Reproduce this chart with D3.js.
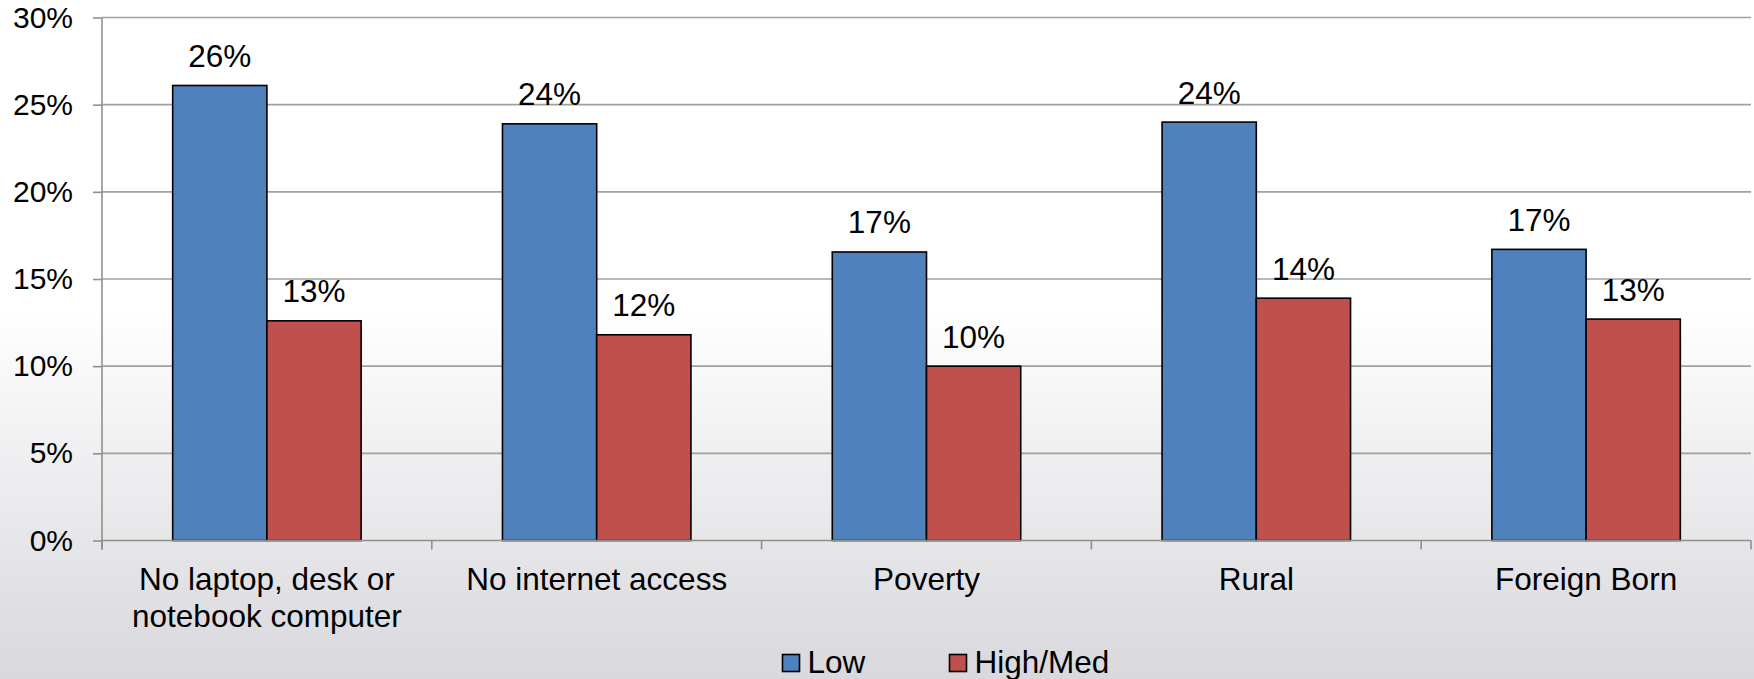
<!DOCTYPE html>
<html>
<head>
<meta charset="utf-8">
<script src="https://cdn.jsdelivr.net/npm/d3@7"></script>
<style>
  html, body { margin: 0; padding: 0; background: #fff; }
  svg { display: block; font-family: "Liberation Sans", Arial, sans-serif; }
</style>
</head>
<body>
<svg id="chart" width="1754" height="679"></svg>
<script>
// Share of students by group, split by school performance level
const categories = [
  ["No laptop, desk or", "notebook computer"],
  ["No internet access"],
  ["Poverty"],
  ["Rural"],
  ["Foreign Born"]
];
const seriesNames = ["Low", "High/Med"];
const lowValues = [26.1, 23.9, 16.55, 24.0, 16.7];
const highMedValues = [12.6, 11.8, 10.0, 13.9, 12.7];
const yTicks = [0, 5, 10, 15, 20, 25, 30];
const colors = ["#4f81bd", "#c0504d"];

const W = 1754, H = 679;
const plot = { left: 102, right: 1751, top: 17.5, bottom: 540.5 };

const svg = d3.select("#chart");

// background gradient: white at top fading to light grey at the bottom
const defs = svg.append("defs");
const grad = defs.append("linearGradient")
  .attr("id", "bg").attr("x1", 0).attr("y1", 0).attr("x2", 0).attr("y2", 1);
grad.append("stop").attr("offset", "0%").attr("stop-color", "#ffffff");
grad.append("stop").attr("offset", "45%").attr("stop-color", "#ffffff");
grad.append("stop").attr("offset", "100%").attr("stop-color", "#d8d8dd");
svg.append("rect").attr("width", W).attr("height", H).attr("fill", "url(#bg)");

const catKeys = categories.map(c => c.join(" "));
const x0 = d3.scaleBand().domain(catKeys).range([plot.left, plot.right]).padding(0);
const x1 = d3.scaleBand().domain(seriesNames).range([0, x0.bandwidth()])
  .paddingInner(0).paddingOuter(0.75);
const y = d3.scaleLinear().domain([0, 30]).range([plot.bottom, plot.top]);

// horizontal gridlines
svg.append("g").selectAll("line").data(yTicks.filter(t => t > 0)).join("line")
  .attr("x1", plot.left).attr("x2", plot.right)
  .attr("y1", d => y(d)).attr("y2", d => y(d))
  .attr("stroke", "#a0a0a0").attr("stroke-width", 1.6);

// y axis
const yAxis = svg.append("g").attr("transform", `translate(${plot.left},0)`)
  .call(d3.axisLeft(y).tickValues(yTicks).tickFormat(d => d + "%").tickSize(9).tickPadding(20));
yAxis.select(".domain").attr("stroke", "#909090").attr("stroke-width", 1.6)
  .attr("d", `M0,${plot.top}V${plot.bottom + 9}`);
yAxis.selectAll(".tick line").attr("stroke", "#909090").attr("stroke-width", 1.6);
yAxis.selectAll(".tick text").attr("font-size", 30).attr("fill", "#000")
  .attr("font-family", "'Liberation Sans', Arial, sans-serif");

// bars
const data = catKeys.map((k, i) => ({ key: k, values: [lowValues[i], highMedValues[i]] }));
const groups = svg.append("g").selectAll("g").data(data).join("g")
  .attr("transform", d => `translate(${x0(d.key)},0)`);

groups.selectAll("rect").data(d => d.values.map((v, j) => ({ name: seriesNames[j], v, j }))).join("rect")
  .attr("x", d => x1(d.name))
  .attr("y", d => y(d.v))
  .attr("width", x1.bandwidth())
  .attr("height", d => y(0) - y(d.v))
  .attr("fill", d => colors[d.j])
  .attr("stroke", "#000").attr("stroke-width", 1.6);

groups.selectAll("text.val").data(d => d.values.map((v, j) => ({ name: seriesNames[j], v }))).join("text")
  .attr("class", "val")
  .attr("x", d => x1(d.name) + x1.bandwidth() / 2)
  .attr("y", d => y(d.v) - 18.5)
  .attr("text-anchor", "middle")
  .attr("font-size", 31.5)
  .attr("fill", "#000")
  .text(d => Math.round(d.v) + "%");

// x axis baseline with category separators
const xAxisG = svg.append("g");
xAxisG.append("line")
  .attr("x1", plot.left).attr("x2", plot.right)
  .attr("y1", plot.bottom).attr("y2", plot.bottom)
  .attr("stroke", "#909090").attr("stroke-width", 1.6);
const boundaries = catKeys.map(k => x0(k)).concat([x0(catKeys[catKeys.length - 1]) + x0.bandwidth()]);
xAxisG.selectAll("line.sep").data(boundaries).join("line")
  .attr("class", "sep")
  .attr("x1", d => d).attr("x2", d => d)
  .attr("y1", plot.bottom).attr("y2", plot.bottom + 9)
  .attr("stroke", "#909090").attr("stroke-width", 1.6);

// category labels
const catLabels = xAxisG.selectAll("text.cat").data(categories).join("text")
  .attr("class", "cat")
  .attr("text-anchor", "middle")
  .attr("font-size", 31.5)
  .attr("fill", "#000")
  .attr("transform", (d, i) => `translate(${x0(catKeys[i]) + x0.bandwidth() / 2},590)`);
catLabels.selectAll("tspan").data(d => d).join("tspan")
  .attr("x", 0)
  .attr("y", (d, i) => i * 36.5)
  .text(d => d);

// legend
const legendItems = [
  { name: seriesNames[0], color: colors[0], x: 782.5 },
  { name: seriesNames[1], color: colors[1], x: 949.5 }
];
const legend = svg.append("g").selectAll("g").data(legendItems).join("g")
  .attr("transform", d => `translate(${d.x},654.5)`);
legend.append("rect")
  .attr("width", 17).attr("height", 17)
  .attr("fill", d => d.color)
  .attr("stroke", "#000").attr("stroke-width", 1.6);
legend.append("text")
  .attr("x", 25).attr("y", 18.5)
  .attr("font-size", 31.5).attr("fill", "#000")
  .text(d => d.name);
</script>
</body>
</html>
